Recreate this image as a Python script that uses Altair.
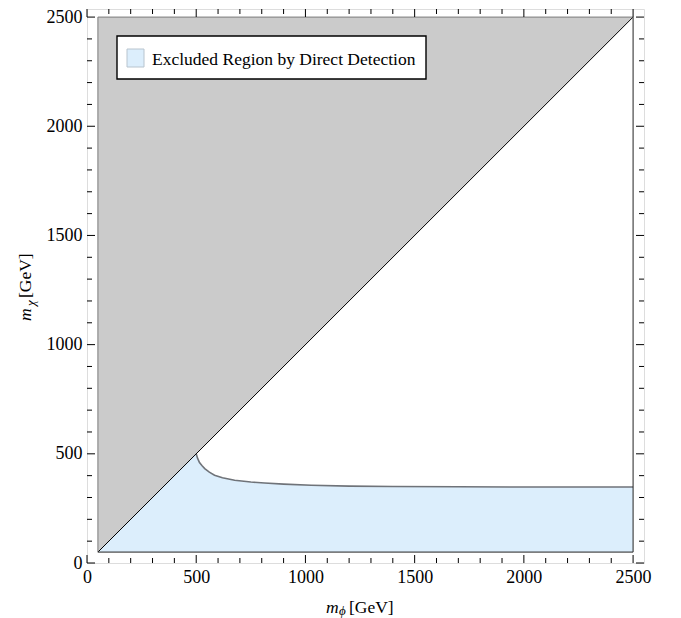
import altair as alt
import pandas as pd

# ---------------- data ----------------
x_ticks_major = [0, 500, 1000, 1500, 2000, 2500]
x_ticks_minor = [100, 200, 300, 400, 600, 700, 800, 900, 1100, 1200, 1300, 1400,
                 1600, 1700, 1800, 1900, 2100, 2200, 2300, 2400]
region_lo = 50
region_hi = 2500
# boundary of direct-detection exclusion (upper edge), m_phi vs m_chi
curve_mphi = [500, 506, 515, 527, 539, 560, 584, 620, 676, 750, 813, 900, 1027,
              1200, 1400, 1700, 2000, 2500]
curve_mchi = [500, 480, 460, 445, 432, 416, 402, 390, 379, 371, 366, 361, 356,
              352, 350, 349, 348, 348]
legend_label = "Excluded Region by Direct Detection"

# ---------------- layout ----------------
W, H = 557, 554
X_MAX, Y_MAX = 2550, 2537
FONT = "Liberation Serif"
FS = 17.5
FS_TICK = 18
BLUE = "#dceefc"
GRAY = "#cbcbcb"

xs = alt.Scale(domain=[0, X_MAX], nice=False, zero=False)
ys = alt.Scale(domain=[0, Y_MAX], nice=False, zero=False)
xaxis = alt.Axis(values=x_ticks_major, title=None, ticks=False, tickSize=0, domain=False,
                 grid=False, labelFont=FONT, labelFontSize=FS_TICK, labelColor="black",
                 labelPadding=5, labelFlush=False, format="d")
yaxis = alt.Axis(values=x_ticks_major, title=None, ticks=False, tickSize=0, domain=False,
                 grid=False, labelFont=FONT, labelFontSize=FS_TICK, labelColor="black",
                 labelPadding=5, labelFlush=False, format="d")


def X(f):
    return alt.X(f, type="quantitative", scale=xs, axis=xaxis)


def Y(f):
    return alt.Y(f, type="quantitative", scale=ys, axis=yaxis)


blue_df = pd.DataFrame({"x": [region_lo] + curve_mphi,
                        "y": [region_lo] + curve_mchi,
                        "y2": region_lo})
curve_df = pd.DataFrame({"x": curve_mphi, "y": curve_mchi})
gray_df = pd.DataFrame({"x": [region_lo, region_hi], "y": [region_lo, region_hi],
                        "y2": region_hi})
diag_df = pd.DataFrame({"x": [region_lo, region_hi], "y": [region_lo, region_hi]})
maj_df = pd.DataFrame({"v": x_ticks_major})
min_df = pd.DataFrame({"v": x_ticks_minor})
one = pd.DataFrame({"a": [0]})

blue = alt.Chart(blue_df).mark_area(color=BLUE, opacity=1).encode(
    x=X("x"), y=Y("y"), y2="y2")
gray = alt.Chart(gray_df).mark_area(color=GRAY, opacity=1).encode(
    x=X("x"), y=Y("y"), y2="y2")
curve = alt.Chart(curve_df).mark_line(color="#6f7379", strokeWidth=1.6).encode(
    x=X("x"), y=Y("y"))
diag = alt.Chart(diag_df).mark_line(color="black", strokeWidth=1).encode(
    x=X("x"), y=Y("y"))

edges_df = pd.DataFrame({
    "x": [region_lo, region_lo, region_lo, region_hi],
    "x2": [region_lo, region_hi, region_hi, region_hi],
    "y": [region_lo, region_hi, region_lo, region_lo],
    "y2": [region_hi, region_hi, region_lo, region_hi],
    "c": ["g", "g", "k", "k"],
})
edges = alt.Chart(edges_df).mark_rule(strokeWidth=1).encode(
    x=X("x"), x2="x2", y=Y("y"), y2="y2",
    color=alt.Color("c:N", scale=alt.Scale(domain=["g", "k"], range=["#7a7a7a", "#222222"]),
                    legend=None))


def ticks(df, L):
    bot = alt.Chart(df).mark_rule(color="black", strokeWidth=1).encode(
        x=X("v"), y=alt.value(H), y2=alt.value(H - L))
    top = alt.Chart(df).mark_rule(color="black", strokeWidth=1).encode(
        x=X("v"), y=alt.value(0), y2=alt.value(L))
    left = alt.Chart(df).mark_rule(color="black", strokeWidth=1).encode(
        y=Y("v"), x=alt.value(0), x2=alt.value(L))
    right = alt.Chart(df).mark_rule(color="black", strokeWidth=1).encode(
        y=Y("v"), x=alt.value(W), x2=alt.value(W - L))
    return [bot, top, left, right]


tick_layers = ticks(maj_df, 8) + ticks(min_df, 5)

leg_box = alt.Chart(one).mark_rect(fill="white", stroke="black", strokeWidth=1.4).encode(
    x=alt.value(30), x2=alt.value(339), y=alt.value(27), y2=alt.value(70))
leg_sw = alt.Chart(one).mark_rect(fill=BLUE, stroke="#b8c4ce", strokeWidth=1).encode(
    x=alt.value(40), x2=alt.value(57), y=alt.value(40), y2=alt.value(58))
leg_tx = alt.Chart(one).mark_text(text=legend_label, font=FONT, fontSize=FS, align="left",
                                  baseline="alphabetic", color="black").encode(
    x=alt.value(65), y=alt.value(56))


def txt(s, x, y, size=FS, italic=False, angle=0):
    kw = dict(text=s, font=FONT, fontSize=size, align="left", baseline="alphabetic",
              color="black")
    if italic:
        kw["fontStyle"] = "italic"
    if angle:
        kw["angle"] = angle
    return alt.Chart(one).mark_text(**kw).encode(x=alt.value(x), y=alt.value(y))


titles = [
    txt("m", 239, 604, italic=True),
    txt("ϕ", 252, 606, size=13, italic=True),
    txt("[GeV]", 262, 604),
    txt("m", -56, 312, italic=True, angle=270),
    txt("χ", -52, 297, size=13, italic=True, angle=270),
    txt("[GeV]", -56, 289, angle=270),
]

chart = alt.layer(blue, gray, curve, diag, edges, *tick_layers, leg_box, leg_sw, leg_tx,
                  *titles).properties(
    width=W, height=H,
    padding={"left": 79, "top": 1, "right": 20, "bottom": 56},
    autosize=alt.AutoSizeParams(type="none"),
).configure_view(stroke="black", strokeWidth=1).configure(
    background="white", font=FONT
).configure_axis(labelFont=FONT, labelFontSize=FS_TICK, labelColor="black"
).configure_text(font=FONT)

chart.save("out.html", embed_options={"renderer": "svg", "actions": False})
